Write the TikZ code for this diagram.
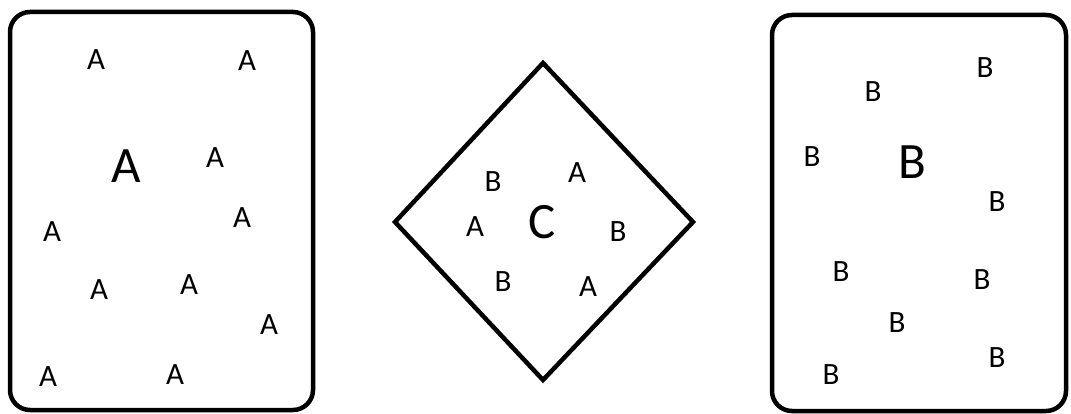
\documentclass[tikz,border=0pt]{standalone}
\usepackage{fontspec}
\setmainfont{Carlito}
\usepackage{tikz}

\tikzset{
  frame/.style={line width=4.5pt, rounded corners=20pt},
  small/.style={inner sep=0pt, font=\fontsize{31}{32}\selectfont},
  big/.style={inner sep=0pt, font=\fontsize{51}{52}\selectfont}
}

\begin{document}
\begin{tikzpicture}[x=1pt, y=-1pt, line join=miter]
\useasboundingbox (0,0) rectangle (1071,414);

% left box: A
\draw[frame] (10,12) rectangle (313,410);
\node[big] (bigA) at (126,166) {A};
\foreach \px/\py [count=\i] in {96/60, 247/61, 215/158, 242/218, 52/232,
    99/290, 189/285, 269/325, 48/377, 175/375}
  \node[small] (a\i) at (\px,\py) {A};

% middle diamond: C
\draw[line width=4.5pt] (543,63) -- (693,222) -- (543,380) -- (395,222) -- cycle;
\node[big] (bigC) at (542,222) {C};
\node[small] (c1) at (493,182) {B};
\node[small] (c2) at (577,173) {A};
\node[small] (c3) at (475,227) {A};
\node[small] (c4) at (618,232) {B};
\node[small] (c5) at (503,282) {B};
\node[small] (c6) at (588,287) {A};

% right box: B
\draw[frame] (772,15) rectangle (1066,411);
\node[big] (bigB) at (912,162) {B};
\foreach \px/\py [count=\i] in {985/68, 873/92, 812/157, 997/202, 841/272,
    982/280, 897/323, 997/358, 831/375}
  \node[small] (b\i) at (\px,\py) {B};
\end{tikzpicture}
\end{document}
